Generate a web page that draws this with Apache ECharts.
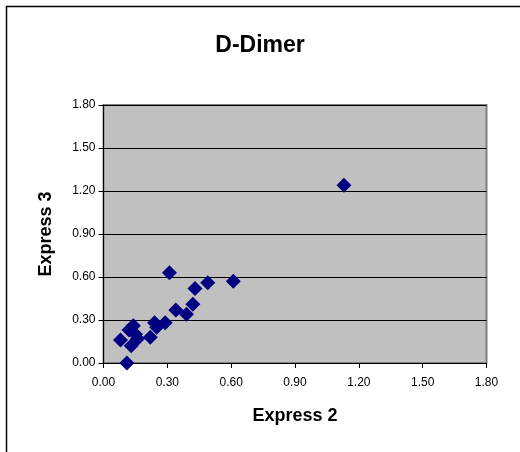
<!DOCTYPE html>
<html>
<head>
<meta charset="utf-8">
<script src="https://cdn.jsdelivr.net/npm/echarts@6/dist/echarts.min.js"></script>
<style>
  html, body { margin: 0; padding: 0; background: #ffffff; }
  #chart { width: 520px; height: 452px; }
</style>
</head>
<body>
<div id="chart"></div>
<script>
  // values
  var express2 = [0.08, 0.11, 0.12, 0.13, 0.14, 0.15, 0.16, 0.22, 0.24, 0.25, 0.29, 0.31, 0.34, 0.39, 0.42, 0.43, 0.49, 0.61, 1.13];
  var express3 = [0.16, 0.00, 0.23, 0.12, 0.26, 0.20, 0.17, 0.18, 0.28, 0.25, 0.28, 0.63, 0.37, 0.34, 0.41, 0.52, 0.56, 0.57, 1.24];
  var axisTicks = [0.00, 0.30, 0.60, 0.90, 1.20, 1.50, 1.80];

  var points = express2.map(function (x, i) { return [x, express3[i]]; });

  var chart = echarts.init(document.getElementById('chart'));
  var font = 'Liberation Sans, Arial, sans-serif';

  chart.setOption({
    animation: false,
    title: {
      text: 'D-Dimer',
      left: 'center',
      top: 29,
      textStyle: { fontFamily: font, fontSize: 23, fontWeight: 'bold', color: '#000' }
    },
    graphic: [{
      type: 'rect',
      shape: { x: 6.5, y: 6.5, width: 520, height: 460 },
      style: { fill: 'none', stroke: '#000', lineWidth: 1.5 },
      silent: true
    }],
    grid: {
      left: 103.5, top: 105, width: 383, height: 258,
      show: true, backgroundColor: '#c0c0c0', borderColor: '#808080', borderWidth: 2
    },
    xAxis: {
      type: 'value',
      min: axisTicks[0], max: axisTicks[axisTicks.length - 1], interval: 0.3,
      name: 'Express 2',
      nameLocation: 'middle',
      nameGap: 44,
      nameTextStyle: { fontFamily: font, fontSize: 18, fontWeight: 'bold', color: '#000' },
      axisLine: { show: true, lineStyle: { color: '#000', width: 1 } },
      axisTick: { show: true, length: 5, lineStyle: { color: '#000' } },
      axisLabel: { margin: 14, fontFamily: font, fontSize: 12, color: '#000',
        formatter: function (v) { return v.toFixed(2); } },
      splitLine: { show: false }
    },
    yAxis: {
      type: 'value',
      min: axisTicks[0], max: axisTicks[axisTicks.length - 1], interval: 0.3,
      name: 'Express 3',
      nameLocation: 'middle',
      nameGap: 48,
      nameTextStyle: { fontFamily: font, fontSize: 18, fontWeight: 'bold', color: '#000' },
      axisLine: { show: true, lineStyle: { color: '#000', width: 1 } },
      axisTick: { show: true, length: 5, lineStyle: { color: '#000' } },
      axisLabel: { margin: 8, fontFamily: font, fontSize: 12, color: '#000',
        formatter: function (v) { return v.toFixed(2); } },
      splitLine: { show: true, lineStyle: { color: '#000', width: 1 } }
    },
    series: [{
      type: 'scatter',
      symbol: 'diamond',
      symbolSize: 15,
      itemStyle: { color: '#000080', opacity: 1 },
      data: points
    }]
  });
</script>
</body>
</html>
